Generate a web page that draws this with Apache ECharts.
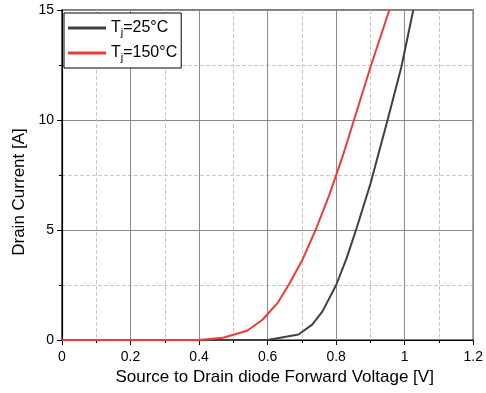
<!DOCTYPE html>
<html><head><meta charset="utf-8">
<script src="https://cdn.jsdelivr.net/npm/echarts@6/dist/echarts.min.js"></script>
<style>html,body{margin:0;padding:0;background:#fff}#c{width:486px;height:393px}</style>
</head><body><div id="c"></div>
<script>
const xTicks = [0, 0.2, 0.4, 0.6, 0.8, 1, 1.2];
const yTicks = [0, 5, 10, 15];
const seriesNames = ['Tj=25°C', 'Tj=150°C'];
const vf25 = [0, 0.1, 0.2, 0.3, 0.4, 0.5, 0.6, 0.69, 0.73, 0.76, 0.8, 0.83, 0.86, 0.9, 0.95, 0.99, 1.025];
const id25 = [0, 0, 0, 0, 0, 0, 0, 0.25, 0.7, 1.3, 2.5, 3.7, 5.1, 7.1, 10.0, 12.4, 15];
const vf150 = [0, 0.1, 0.2, 0.3, 0.4, 0.47, 0.54, 0.585, 0.63, 0.665, 0.7, 0.74, 0.78, 0.82, 0.86, 0.9, 0.955];
const id150 = [0, 0, 0, 0, 0, 0.1, 0.42, 0.92, 1.7, 2.6, 3.6, 5.0, 6.6, 8.4, 10.4, 12.4, 15];

const zip = (a, b) => a.map((v, i) => [v, b[i]]);
const font = "'Liberation Sans', Arial, sans-serif";
const chart = echarts.init(document.getElementById('c'));
const rich = { sub: { fontSize: 11, fontFamily: font, color: '#000', padding: [9, 0, 0, 0] }, n: { fontSize: 16, fontFamily: font, color: '#000' } };
chart.setOption({
  animation: false,
  grid: { left: 62, right: 11, top: 10, bottom: 53, show: true, borderColor: '#000', borderWidth: 1.2 },
  legend: {
    left: 64, top: 13, orient: 'vertical', icon: 'rect', itemWidth: 38, itemHeight: 3, itemGap: 7,
    padding: [7, 4, 5, 4], borderColor: '#000', borderWidth: 1, backgroundColor: '#fff',
    data: seriesNames,
    formatter: n => n === seriesNames[0] ? '{n|T}{sub|j}{n|=25°C}' : '{n|T}{sub|j}{n|=150°C}',
    textStyle: { rich: rich }
  },
  xAxis: {
    type: 'value', min: 0, max: 1.2, interval: 0.2,
    axisLine: { lineStyle: { color: '#000', width: 1.2 } },
    axisTick: { show: true, inside: false, length: 5, lineStyle: { color: '#000' } },
    minorTick: { show: true, splitNumber: 2, length: 3, lineStyle: { color: '#000' } },
    splitLine: { show: true, lineStyle: { color: '#8a8a8a', width: 1 } },
    minorSplitLine: { show: true, lineStyle: { color: '#c8c8c8', type: 'dashed', width: 1 } },
    axisLabel: { fontSize: 14, color: '#000', fontFamily: font, margin: 10, formatter: v => String(Math.round(v * 10) / 10) },
    name: 'Source to Drain diode Forward Voltage [V]', nameLocation: 'middle', nameGap: 27,
    nameTextStyle: { fontSize: 17, color: '#000', fontFamily: font, padding: [0, 0, 0, 14] }
  },
  yAxis: {
    type: 'value', min: 0, max: 15, interval: 5,
    axisLine: { show: true, lineStyle: { color: '#000', width: 1.2 } },
    axisTick: { show: true, inside: false, length: 5, lineStyle: { color: '#000' } },
    minorTick: { show: true, splitNumber: 2, length: 3, lineStyle: { color: '#000' } },
    splitLine: { show: true, lineStyle: { color: '#8a8a8a', width: 1 } },
    minorSplitLine: { show: true, lineStyle: { color: '#c8c8c8', type: 'dashed', width: 1 } },
    axisLabel: { fontSize: 14, color: '#000', fontFamily: font, margin: 8 },
    name: 'Drain Current [A]', nameLocation: 'middle', nameGap: 32,
    nameTextStyle: { fontSize: 17, color: '#000', fontFamily: font, padding: [0, 34, 0, 0] }
  },
  series: [
    { name: seriesNames[0], type: 'line', data: zip(vf25, id25), symbol: 'none', lineStyle: { color: '#404040', width: 2 }, itemStyle: { color: '#404040' } },
    { name: seriesNames[1], type: 'line', data: zip(vf150, id150), symbol: 'none', lineStyle: { color: '#f03a3a', width: 2 }, itemStyle: { color: '#f03a3a' } }
  ]
});
</script></body></html>
